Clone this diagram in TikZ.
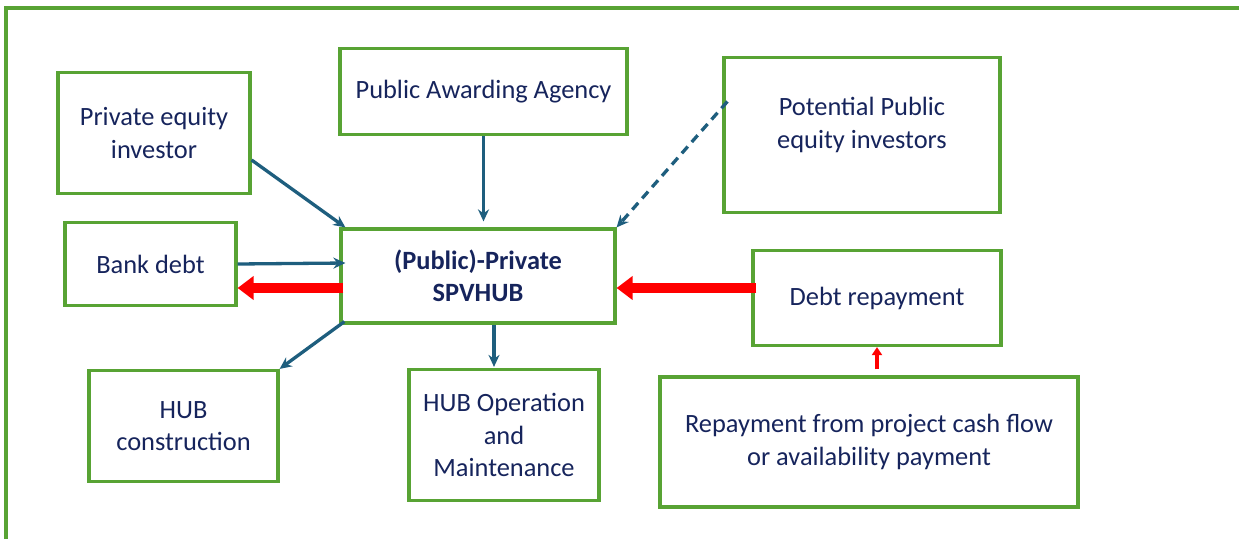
\documentclass[tikz,border=0pt]{standalone}
\usepackage{fontspec}
\setmainfont{Carlito}
\usetikzlibrary{arrows.meta}
\definecolor{boxgreen}{RGB}{88,163,52}
\definecolor{textnavy}{RGB}{22,36,92}
\definecolor{flowblue}{RGB}{30,94,126}
\definecolor{payred}{RGB}{255,0,0}
\tikzset{
    box/.style = {draw = boxgreen, line width = 3.2pt, text = textnavy, align = center,
        inner sep = 0pt, font = \fontsize{26.4}{32.5}\selectfont},
    flow/.style = {draw = flowblue, line width = 3.3pt, -{Stealth[length = 12pt, width = 11pt]}},
    bigpay/.style = {draw = payred, line width = 10pt, -{Triangle[length = 16pt, width = 23pt]}},
    smallpay/.style = {draw = payred, line width = 3.5pt, -{Triangle[length = 8pt, width = 10pt]}}
}
\begin{document}
\begin{tikzpicture}[x = 1pt, y = -1pt]
        \useasboundingbox (0, 0) rectangle (1239, 539);
        \draw [boxgreen, line width = 3.2pt] (6, 539) -- (6, 8) -- (1239, 8);
        \node [box, minimum width = 192, minimum height = 121] (peinv) at (154, 133) {Private equity\\investor};
        \node [box, minimum width = 287, minimum height = 86] (award) at (483.5, 91.5) {Public Awarding Agency};
        \node [box, minimum width = 276, minimum height = 155,
            label = {[text = textnavy, align = center, yshift = 10pt, font = \fontsize{26.4}{32.5}\selectfont]center:Potential Public\\equity investors}]
            (potpub) at (862, 135) {};
        \node [box, minimum width = 171, minimum height = 83] (bank) at (150.5, 264) {Bank debt};
        \node [box, minimum width = 274, minimum height = 94] (spv) at (478, 276) {\bfseries (Public)-Private\\\bfseries SPVHUB};
        \node [box, minimum width = 248, minimum height = 95] (debtrep) at (877, 298) {Debt repayment};
        \node [box, minimum width = 189, minimum height = 111] (constr) at (183.5, 426) {HUB\\construction};
        \node [box, minimum width = 190, minimum height = 131] (oper) at (504, 435) {HUB Operation\\and\\Maintenance};
        \node [box, minimum width = 418, minimum height = 130] (cashflow) at (869, 442) {Repayment from project cash flow\\or availability payment};
        \draw [flow] ([yshift = -27pt]peinv.east) -- ([xshift = 6pt]spv.north west);
        \draw [flow, shorten > = 6pt] (award.south) -- (award.south |- spv.north);
        \draw [flow, dashed, dash pattern = on 9pt off 6pt] ([shift = {(5, -33.5)}]potpub.west) -- (spv.north east);
        \draw [flow] (bank.east) -- ([shift = {(6, -13)}]spv.west);
        \draw [flow] ([shift = {(5, -3)}]spv.south west) -- (constr.north east);
        \coordinate (down) at ([xshift = 16pt]spv.south);
        \draw [flow, shorten > = 1pt] (down) -- (down |- oper.north);
        \coordinate (payline) at ([shift = {(4, 12)}]spv.west);
        \draw [bigpay] (payline) -- (payline -| bank.east);
        \draw [bigpay] ([xshift = 5pt]payline -| debtrep.west) -- (payline -| spv.east);
        \draw [smallpay, shorten < = 6pt] (debtrep.south |- cashflow.north) -- (debtrep.south);
    \end{tikzpicture}
\end{document}
